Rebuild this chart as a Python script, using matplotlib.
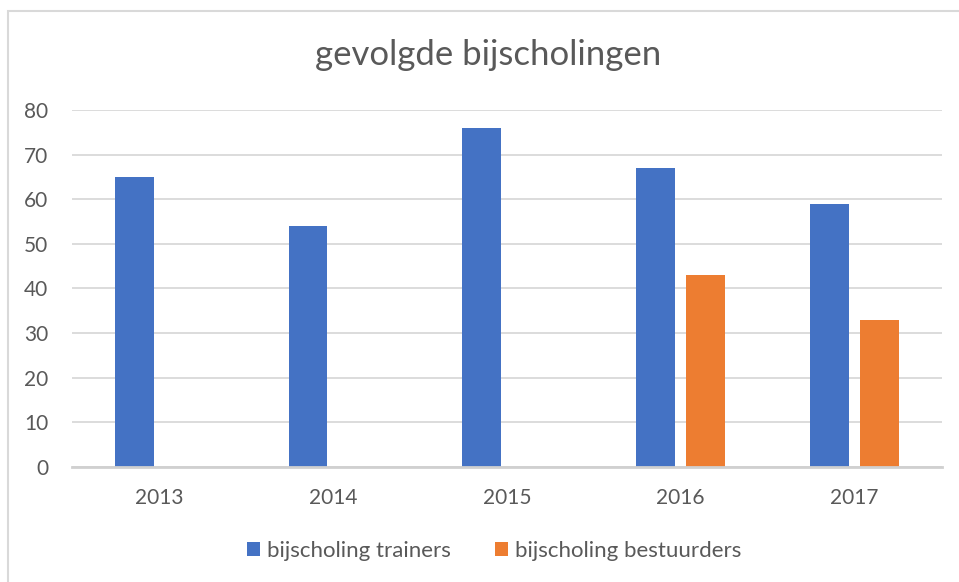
import matplotlib.pyplot as plt
import numpy as np
from matplotlib.patches import Rectangle

# data
jaren = ['2013', '2014', '2015', '2016', '2017']
trainers = [65, 54, 76, 67, 59]
bestuurders = [0, 0, 0, 43, 33]

plt.rcParams['font.family'] = ['Lato', 'DejaVu Sans']
tekst_kleur = '#595959'
grid_kleur = '#d9d9d9'

fig = plt.figure(figsize=(9.59, 5.82), dpi=100)
ax = fig.add_axes([72 / 959, 1 - 466.7 / 582, (941.5 - 72) / 959, (466.7 - 110) / 582])

x = np.arange(len(jaren))
breedte = 0.224
ax.bar(x - 0.143, trainers, width=breedte, color='#4472c4', label='bijscholing trainers', zorder=3)
ax.bar(x + 0.143, bestuurders, width=breedte, color='#ed7d31', label='bijscholing bestuurders', zorder=3)

ax.set_xlim(-0.5, 4.5)
ax.set_ylim(0, 80)
ax.set_yticks(range(0, 81, 10))
ax.set_xticks(x)
ax.set_xticklabels(jaren)
ax.tick_params(axis='both', length=0, labelsize=15, colors=tekst_kleur)
ax.tick_params(axis='y', pad=17)
ax.tick_params(axis='x', pad=15)
ax.grid(axis='y', color=grid_kleur, linewidth=1.3, zorder=0)
for s in ['top', 'right', 'left']:
    ax.spines[s].set_visible(False)
ax.spines['bottom'].set_color('#d0d0d0')
ax.spines['bottom'].set_linewidth(2)
ax.spines['bottom'].set_zorder(4)

fig.text(488 / 959, 1 - 55 / 582, 'gevolgde bijscholingen', ha='center', va='center',
         fontsize=25, color=tekst_kleur)

# legenda
fig.legend(loc='center', bbox_to_anchor=(494 / 959, 1 - 551 / 582), ncol=2, frameon=False,
           fontsize=16, labelcolor=tekst_kleur, handlelength=0.6, handleheight=0.6,
           handletextpad=0.3, columnspacing=2.0)

# rand van de grafiek
fig.patches.append(Rectangle((7.5 / 959, -0.1), 1.2, 1 - 11 / 582 + 0.1, transform=fig.transFigure,
                             fill=False, edgecolor=grid_kleur, linewidth=1.5))

fig.savefig('out.png', dpi=100)
